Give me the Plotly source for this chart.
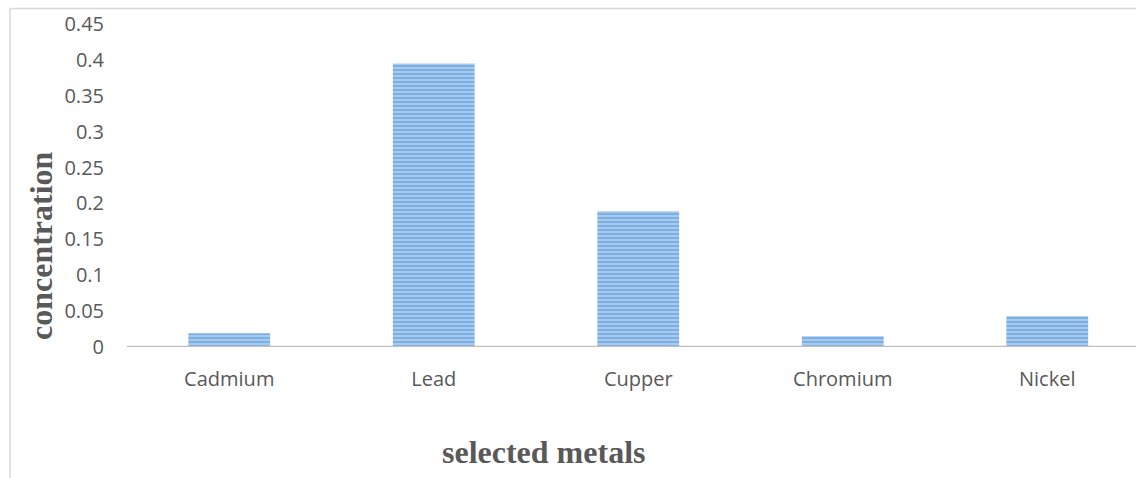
import plotly.graph_objects as go

metals = ["Cadmium", "Lead", "Cupper", "Chromium", "Nickel"]
concentration = [0.019, 0.395, 0.189, 0.015, 0.043]
y_ticks = [0, 0.05, 0.1, 0.15, 0.2, 0.25, 0.3, 0.35, 0.4, 0.45]
y_tick_text = ["0", "0.05", "0.1", "0.15", "0.2", "0.25", "0.3", "0.35", "0.4", "0.45"]

W, H = 1136, 478

fig = go.Figure()
fig.add_trace(go.Bar(
    x=list(range(len(metals))),
    y=concentration,
    width=0.4,
    marker=dict(
        color="#a6c9ee",
        line=dict(width=0),
        pattern=dict(shape="-", size=4, solidity=0.5,
                     fgcolor="#5596d8", fillmode="overlay"),
    ),
    showlegend=False,
))

fig.update_layout(
    width=W, height=H,
    margin=dict(l=0, r=0, t=0, b=0, pad=0, autoexpand=False),
    paper_bgcolor="white",
    plot_bgcolor="white",
    xaxis=dict(
        domain=[127 / W, 1],
        range=[-0.5, 4.434],
        tickmode="array",
        tickvals=list(range(len(metals))),
        ticktext=metals,
        showgrid=False,
        zeroline=False,
        showline=False,
        ticks="",
        automargin=False,
        ticklabelstandoff=18,
        tickfont=dict(family="Open Sans", size=20, color="#595959"),
    ),
    yaxis=dict(
        domain=[131 / H, 1 - 24 / H],
        range=[0, 0.45],
        tickmode="array",
        tickvals=y_ticks,
        ticktext=y_tick_text,
        showgrid=False,
        zeroline=False,
        showline=False,
        ticks="",
        automargin=False,
        ticklabelstandoff=22,
        tickfont=dict(family="Open Sans", size=20, color="#595959"),
    ),
    shapes=[
        # chart border (left and top)
        dict(type="line", xref="paper", yref="paper", x0=10 / W, x1=10 / W,
             y0=0, y1=1 - 8.5 / H, line=dict(color="#d9d9d9", width=1.5)),
        dict(type="line", xref="paper", yref="paper", x0=10 / W, x1=1,
             y0=1 - 8.5 / H, y1=1 - 8.5 / H, line=dict(color="#d9d9d9", width=1.5)),
        # category axis line
        dict(type="line", xref="paper", yref="y", x0=127 / W, x1=1,
             y0=0, y1=0, line=dict(color="#bfbfbf", width=2.5)),
    ],
    annotations=[
        dict(text="<b>concentration</b>", xref="paper", yref="paper",
             x=41 / W, y=1 - 246 / H, textangle=-90, showarrow=False,
             xanchor="center", yanchor="middle",
             font=dict(family="Liberation Serif", size=32, color="#595959")),
        dict(text="<b>selected metals</b>", xref="paper", yref="paper",
             x=543 / W, y=1 - 452 / H, showarrow=False,
             xanchor="center", yanchor="middle",
             font=dict(family="Liberation Serif", size=32, color="#595959")),
    ],
)

fig.write_html("out.html")
